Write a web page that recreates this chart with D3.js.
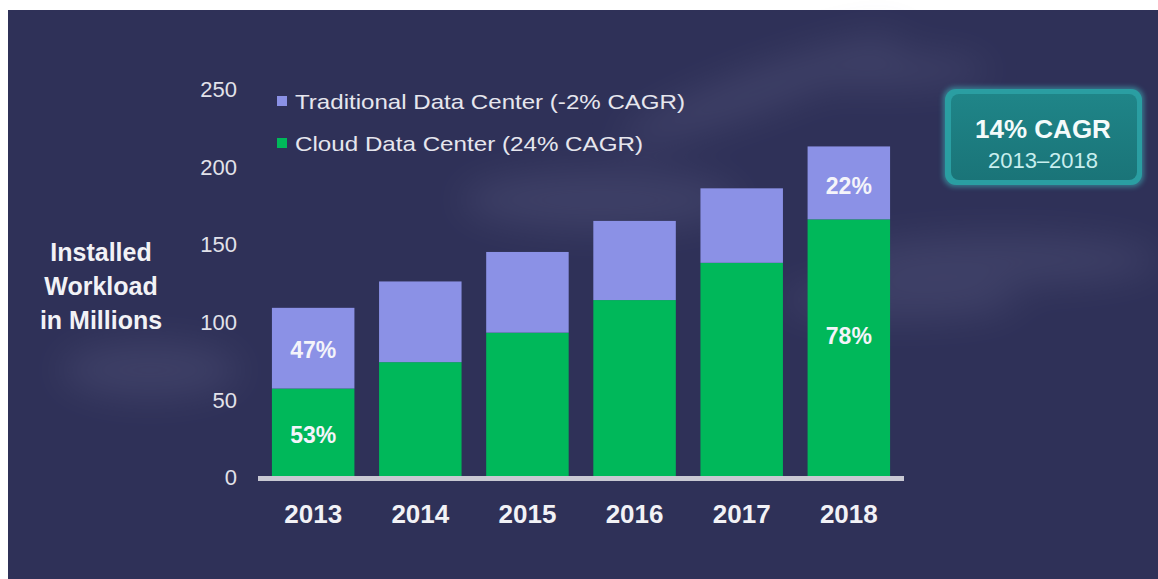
<!DOCTYPE html>
<html><head><meta charset="utf-8">
<script src="https://cdn.jsdelivr.net/npm/d3@7"></script>
<style>html,body{margin:0;padding:0;background:#fff;}svg{display:block;}</style>
</head><body>
<svg id="c" width="1158" height="579"></svg>
<script>
const years = ["2013","2014","2015","2016","2017","2018"];
const cloudDC = [57, 74, 93, 114, 138, 166];
const traditionalDC = [52, 52, 52, 51, 48, 47];
const yTicks = [0, 50, 100, 150, 200, 250];
const pctLabels = [
  {year:"2013", series:"traditional", text:"47%"},
  {year:"2013", series:"cloud", text:"53%"},
  {year:"2018", series:"traditional", text:"22%"},
  {year:"2018", series:"cloud", text:"78%"}
];
const legendItems = ["Traditional Data Center (-2% CAGR)", "Cloud Data Center (24% CAGR)"];

const svg = d3.select("#c");
const font = "'Liberation Sans', Arial, sans-serif";
const defs = svg.append("defs");
const blur = defs.append("filter").attr("id","blur").attr("x","-50%").attr("y","-50%").attr("width","200%").attr("height","200%");
blur.append("feGaussianBlur").attr("stdDeviation", 18);
const glow = defs.append("filter").attr("id","glow").attr("x","-20%").attr("y","-30%").attr("width","140%").attr("height","160%");
glow.append("feGaussianBlur").attr("stdDeviation", 2.5);
const grad = defs.append("linearGradient").attr("id","boxg").attr("x1",0).attr("y1",0).attr("x2",0).attr("y2",1);
grad.append("stop").attr("offset","0%").attr("stop-color","#1f8588");
grad.append("stop").attr("offset","100%").attr("stop-color","#1a7478");

// panel
svg.append("rect").attr("x",8).attr("y",10).attr("width",1150).attr("height",569).attr("fill","#2f3158");
// faint clouds
const clouds = [[760,90,150,22,-20],[880,70,110,18,0],[1000,260,160,25,0],[150,370,90,28,0],[900,300,120,20,0],[600,200,140,30,0]];
const cg = svg.append("g").attr("filter","url(#blur)").attr("opacity",0.25);
clouds.forEach(c=>{
  cg.append("ellipse").attr("cx",c[0]).attr("cy",c[1]).attr("rx",c[2]).attr("ry",c[3])
    .attr("fill","#6a6c92").attr("transform",`rotate(${c[4]},${c[0]},${c[1]})`);
});

const stacked = years.map((y,i)=>({year:y, cloud:cloudDC[i], traditional:traditionalDC[i]}));
const series = d3.stack().keys(["cloud","traditional"])(stacked);

const x = d3.scaleBand().domain(years).range([258, 904]).paddingInner(0.23).paddingOuter(0.13);
const y = d3.scaleLinear().domain([0,250]).range([477, 89]);
const colors = {cloud:"#00b85a", traditional:"#8b91e6"};

const gBars = svg.append("g");
series.forEach(s=>{
  gBars.selectAll(null).data(s).enter().append("rect")
    .attr("x", d=>x(d.data.year)).attr("width", x.bandwidth())
    .attr("y", d=>y(d[1])).attr("height", d=>y(d[0])-y(d[1]))
    .attr("fill", colors[s.key]);
});

// baseline
svg.append("rect").attr("x",258).attr("y",y(0)-1).attr("width",646).attr("height",5).attr("fill","#c9c9d3");

// y ticks
const yAxis = d3.axisLeft(y).tickValues(yTicks).tickSize(0).tickPadding(0);
const ga = svg.append("g").attr("transform","translate(237,0)").call(yAxis);
ga.select(".domain").remove();
ga.selectAll("text").attr("font-family",font).attr("font-size",22).attr("fill","#e2e2ea").attr("dy","0.35em");

// x labels
const xAxis = d3.axisBottom(x).tickSize(0).tickPadding(0);
const gx = svg.append("g").attr("transform","translate(0,514)").call(xAxis);
gx.select(".domain").remove();
gx.selectAll("text").attr("font-family",font).attr("font-size",26).attr("font-weight","bold").attr("fill","#f2f2f6").attr("dy","0.35em");

// percentage labels
const labY = {"2013":{traditional:350, cloud:435}, "2018":{traditional:186, cloud:336}};
pctLabels.forEach(p=>{
  svg.append("text").attr("x", x(p.year)+x.bandwidth()/2).attr("y", labY[p.year][p.series])
    .attr("dy","0.35em").attr("text-anchor","middle").attr("font-family",font)
    .attr("font-size",23).attr("font-weight","bold").attr("fill","#f4f4fa").text(p.text);
});

// legend
const legendW = [390, 348];
legendItems.forEach((t,i)=>{
  const cy = 102 + i*42;
  svg.append("rect").attr("x",277).attr("y",cy-6).attr("width",10).attr("height",10)
    .attr("fill", i===0?colors.traditional:colors.cloud);
  svg.append("text").attr("x",295).attr("y",cy).attr("dy","0.35em").attr("font-family",font)
    .attr("font-size",21).attr("fill","#e6e6ee")
    .attr("textLength", legendW[i]).attr("lengthAdjust","spacingAndGlyphs").text(t);
});

// y title
["Installed","Workload","in Millions"].forEach((t,i)=>{
  svg.append("text").attr("x",101).attr("y",252+i*34).attr("dy","0.35em").attr("text-anchor","middle")
    .attr("font-family",font).attr("font-size",25).attr("font-weight","bold").attr("fill","#f2f2f6").text(t);
});

// CAGR box
svg.append("rect").attr("x",943).attr("y",87).attr("width",201).attr("height",100).attr("rx",12)
  .attr("fill","#3fc2c6").attr("opacity",0.5).attr("filter","url(#glow)");
svg.append("rect").attr("x",945).attr("y",89).attr("width",197).attr("height",96).attr("rx",11).attr("fill","#2a9ea2");
svg.append("rect").attr("x",951).attr("y",94).attr("width",186).attr("height",86).attr("rx",8).attr("fill","url(#boxg)");
svg.append("text").attr("x",1043).attr("y",129).attr("dy","0.35em").attr("text-anchor","middle")
  .attr("font-family",font).attr("font-size",26).attr("font-weight","bold").attr("fill","#f4fbfb").text("14% CAGR");
svg.append("text").attr("x",1043).attr("y",160).attr("dy","0.35em").attr("text-anchor","middle")
  .attr("font-family",font).attr("font-size",22).attr("fill","#c8eeee").text("2013–2018");
</script>
</body></html>
